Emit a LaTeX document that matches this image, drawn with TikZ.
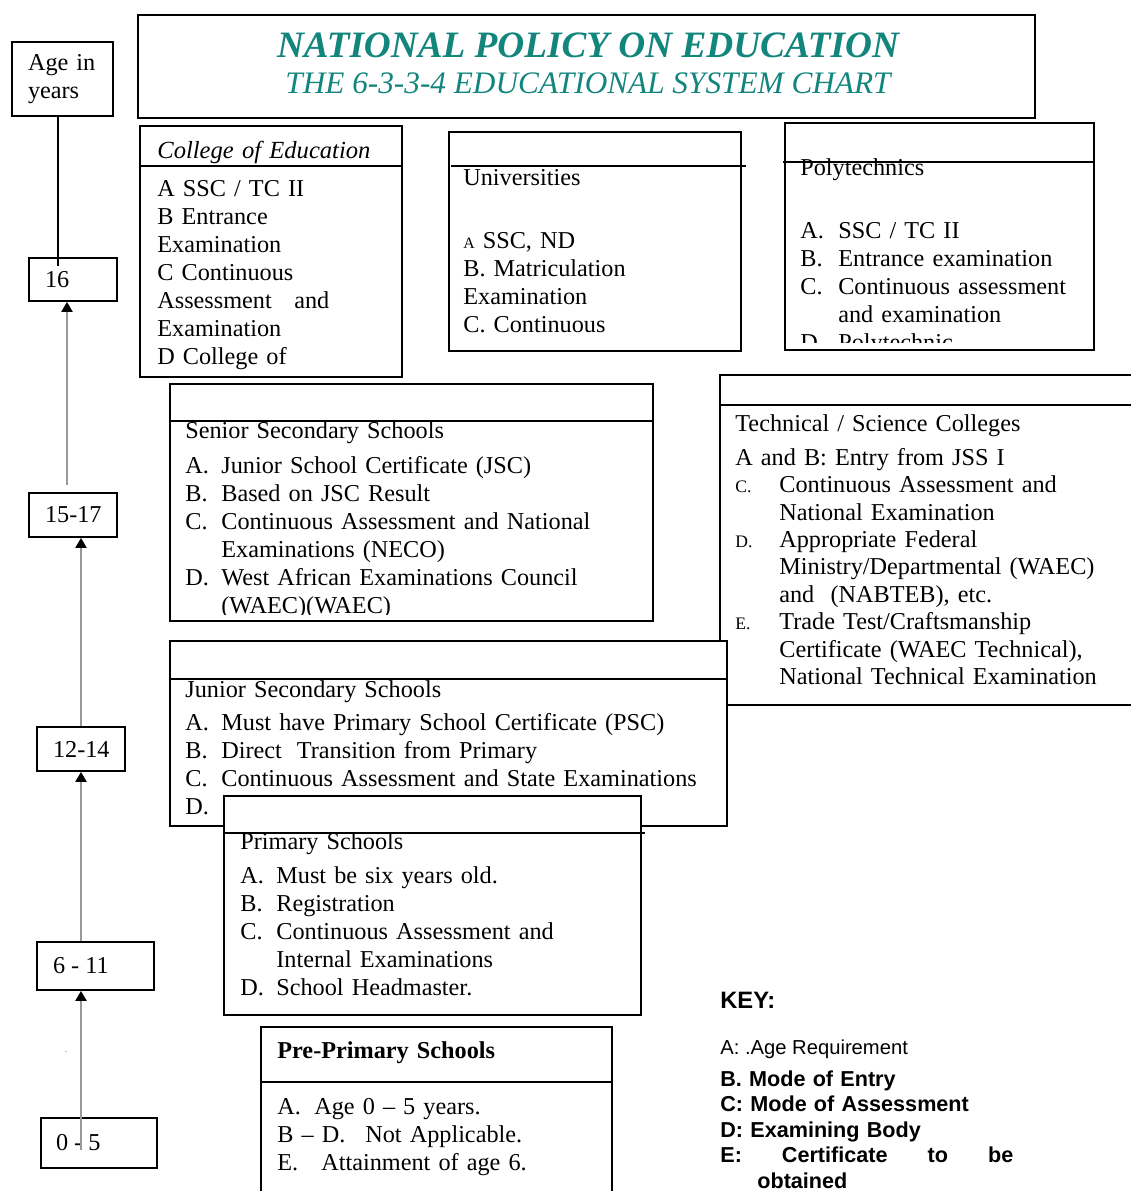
\documentclass[tikz,border=0pt]{standalone}
\usepackage{fontspec}
\setmainfont{Liberation Serif}
\newfontfamily\keyfont{Liberation Sans}
\usetikzlibrary{arrows.meta}
\definecolor{titleteal}{RGB}{18,133,125}
\newcommand{\bodyfont}{\fontsize{13.8pt}{15.94pt}\selectfont}
\newcommand{\lbl}[2][0.72cm]{\makebox[#1][l]{#2}}
\newcommand{\tlbl}[1]{\makebox[0.88cm][l]{\fontsize{10pt}{10pt}\selectfont #1}}
\newcommand{\agetxt}[2]{\makebox[#1][l]{#2}}
\tikzset{
  box/.style={draw, line width=1pt, fill=white},
  agebox/.style={draw, line width=1pt, inner xsep=0.32cm, inner ysep=0pt, align=left, font=\bodyfont},
  bodytext/.style={anchor=base west, inner sep=0pt, text width=12cm, align=left, font=\bodyfont},
  agearrow/.style={draw=black!40, line width=1.2pt, -{Triangle[length=0.2cm,width=0.22cm,color=black,fill=black]}}
}
\begin{document}
\begin{tikzpicture}[x=0.02cm, y=-0.02cm]
\path[use as bounding box, clip] (0,0) rectangle (1131,1191);

% title
\draw[box] (138,15) rectangle (1035,118);
\node[anchor=base, inner sep=0pt, text=titleteal, font=\fontsize{21.2pt}{24pt}\selectfont\bfseries\itshape] (title) at (588,57) {NATIONAL POLICY ON EDUCATION};
\node[anchor=base, inner sep=0pt, text=titleteal, font=\fontsize{17.8pt}{20pt}\selectfont\itshape] (subtitle) at (588,93) {THE 6-3-3-4 EDUCATIONAL SYSTEM CHART};

% college of education
\draw[box] (140,126) rectangle (402,377);
\draw[line width=1pt] (140,166) -- (402,166);
\node[bodytext, font=\fontsize{14pt}{16pt}\selectfont\itshape] (coehead) at (157,158) {College of Education};
\node[bodytext] (coe) at (157,196) {A SSC / TC II\\B Entrance\\Examination\\C Continuous\\Assessment\hspace{0.45cm}and\\Examination\\D College of};

% universities
\draw[box] (449,132) rectangle (741,351);
\draw[line width=1pt] (451,166) -- (746,166);
\node[bodytext] (unihead) at (463,185) {Universities};
\node[bodytext] (uni) at (463,248) {{\fontsize{9pt}{10pt}\selectfont A} SSC, ND\\B. Matriculation\\Examination\\C. Continuous};

% polytechnics
\draw[box] (785,123) rectangle (1094,350);
\draw[line width=1pt] (783,162) -- (1093,162);
\node[bodytext] (polyhead) at (800,175) {Polytechnics};
\begin{scope}
\clip (785,123) rectangle (1094,342);
\node[bodytext] (poly) at (800,238) {\lbl[0.76cm]{A.}SSC / TC II\\ \lbl[0.76cm]{B.}Entrance examination\\ \lbl[0.76cm]{C.}Continuous assessment\\ \lbl[0.76cm]{}and examination\\ \lbl[0.76cm]{D.}Polytechnic};
\end{scope}

% senior secondary
\draw[box] (170,384) rectangle (653,621);
\draw[line width=1pt] (170,421) -- (653,421);
\node[bodytext] (senhead) at (185,438) {Senior Secondary Schools};
\begin{scope}
\clip (170,384) rectangle (653,614);
\node[bodytext] (sen) at (185,473) {\lbl{A.}Junior School Certificate (JSC)\\ \lbl{B.}Based on JSC Result\\ \lbl{C.}Continuous Assessment and National\\ \lbl{}Examinations (NECO)\\ \lbl{D.}West African Examinations Council\\ \lbl{}(WAEC)(WAEC)};
\end{scope}

% technical / science colleges
\draw[line width=1pt] (1140,375) -- (720,375) -- (720,705) -- (1140,705);
\draw[line width=1pt] (720,405) -- (1140,405);
\node[bodytext] (techhead) at (735,431) {Technical / Science Colleges};
\node[bodytext, font=\fontsize{13.8pt}{15.65pt}\selectfont] (tech) at (735,465) {A and B: Entry from JSS I\\ \tlbl{C.}Continuous Assessment and\\ \tlbl{}National Examination\\ \tlbl{D.}Appropriate Federal\\ \tlbl{}Ministry/Departmental (WAEC)\\ \tlbl{}and\ \ (NABTEB), etc.\\ \tlbl{E.}Trade Test/Craftsmanship\\ \tlbl{}Certificate (WAEC Technical),\\ \tlbl{}National Technical Examination};

% junior secondary
\draw[box] (170,641) rectangle (727,826);
\draw[line width=1pt] (170,679) -- (727,679);
\node[bodytext] (junhead) at (185,697) {Junior Secondary Schools};
\node[bodytext] (jun) at (185,730) {\lbl{A.}Must have Primary School Certificate (PSC)\\ \lbl{B.}Direct\hspace{0.3cm}Transition from Primary\\ \lbl{C.}Continuous Assessment and State Examinations\\ \lbl{D.}};

% primary
\draw[box] (224,796) rectangle (641,1015);
\draw[line width=1pt] (224,833) -- (645,833);
\node[bodytext] (primhead) at (240,849) {Primary Schools};
\node[bodytext] (prim) at (240,883) {\lbl{A.}Must be six years old.\\ \lbl{B.}Registration\\ \lbl{C.}Continuous Assessment and\\ \lbl{}Internal Examinations\\ \lbl{D.}School Headmaster.};

% pre-primary
\draw[box] (261,1027) rectangle (612,1200);
\draw[line width=1pt] (261,1082) -- (612,1082);
\node[bodytext, font=\bodyfont\bfseries] (prehead) at (277,1058) {Pre-Primary Schools};
\node[bodytext] (pre) at (277,1114) {\lbl[0.74cm]{A.}Age 0 -- 5 years.\\ \lbl[1.76cm]{B -- D.}Not Applicable.\\ \lbl[0.88cm]{E.}Attainment of age 6.};

% key
\node[anchor=base west, inner sep=0pt, font=\keyfont\bfseries\fontsize{13.5pt}{16pt}\selectfont] (keyhead) at (720,1008) {KEY:};
\node[anchor=base west, inner sep=0pt, font=\keyfont\fontsize{11.5pt}{13pt}\selectfont] (keya) at (720,1054) {A: .Age Requirement};
\node[bodytext, font=\keyfont\bfseries\fontsize{12.3pt}{14.6pt}\selectfont] (keyrest) at (720,1086) {B. Mode of Entry\\C: Mode of Assessment\\D: Examining Body\\\leavevmode\hbox to 5.86cm{E:\hfill Certificate\hfill to\hfill be}\\\hspace*{0.74cm}obtained};

% age column
\node[agebox, text width=1.38cm, minimum height=1.48cm] (agebox) at (62.5,79) {Age in\\years};
\node[agebox, minimum height=0.86cm] (b16) at (73,279.5) {\agetxt{1.12cm}{16}};
\node[agebox, minimum height=0.88cm] (b1517) at (73,515) {\agetxt{1.12cm}{15-17}};
\node[agebox, minimum height=0.88cm] (b1214) at (81,749) {\agetxt{1.12cm}{12-14}};
\node[agebox, minimum height=0.96cm] (b611) at (95.5,966) {\agetxt{1.70cm}{6 - 11}};
\node[agebox, minimum height=1.0cm, inner xsep=0.3cm] (b05) at (99,1143) {\agetxt{1.72cm}{0 - 5}};
\node[inner sep=0pt, text=black!60, font=\tiny] (dot) at (66,1052) {.};

\coordinate (ageend) at (58,266);
\coordinate (s1517) at (67,485);
\coordinate (s05) at (81,1150);

\draw[line width=1pt] (agebox.south -| ageend) -- (ageend);
\draw[agearrow] (s1517) -- (s1517 |- b16.south);
\draw[agearrow] (b1214.north) -- (b1214.north |- b1517.south);
\draw[agearrow] (b611.north -| b1214.south) -- (b1214.south);
\draw[agearrow] (s05) -- (s05 |- b611.south);
\end{tikzpicture}
\end{document}
